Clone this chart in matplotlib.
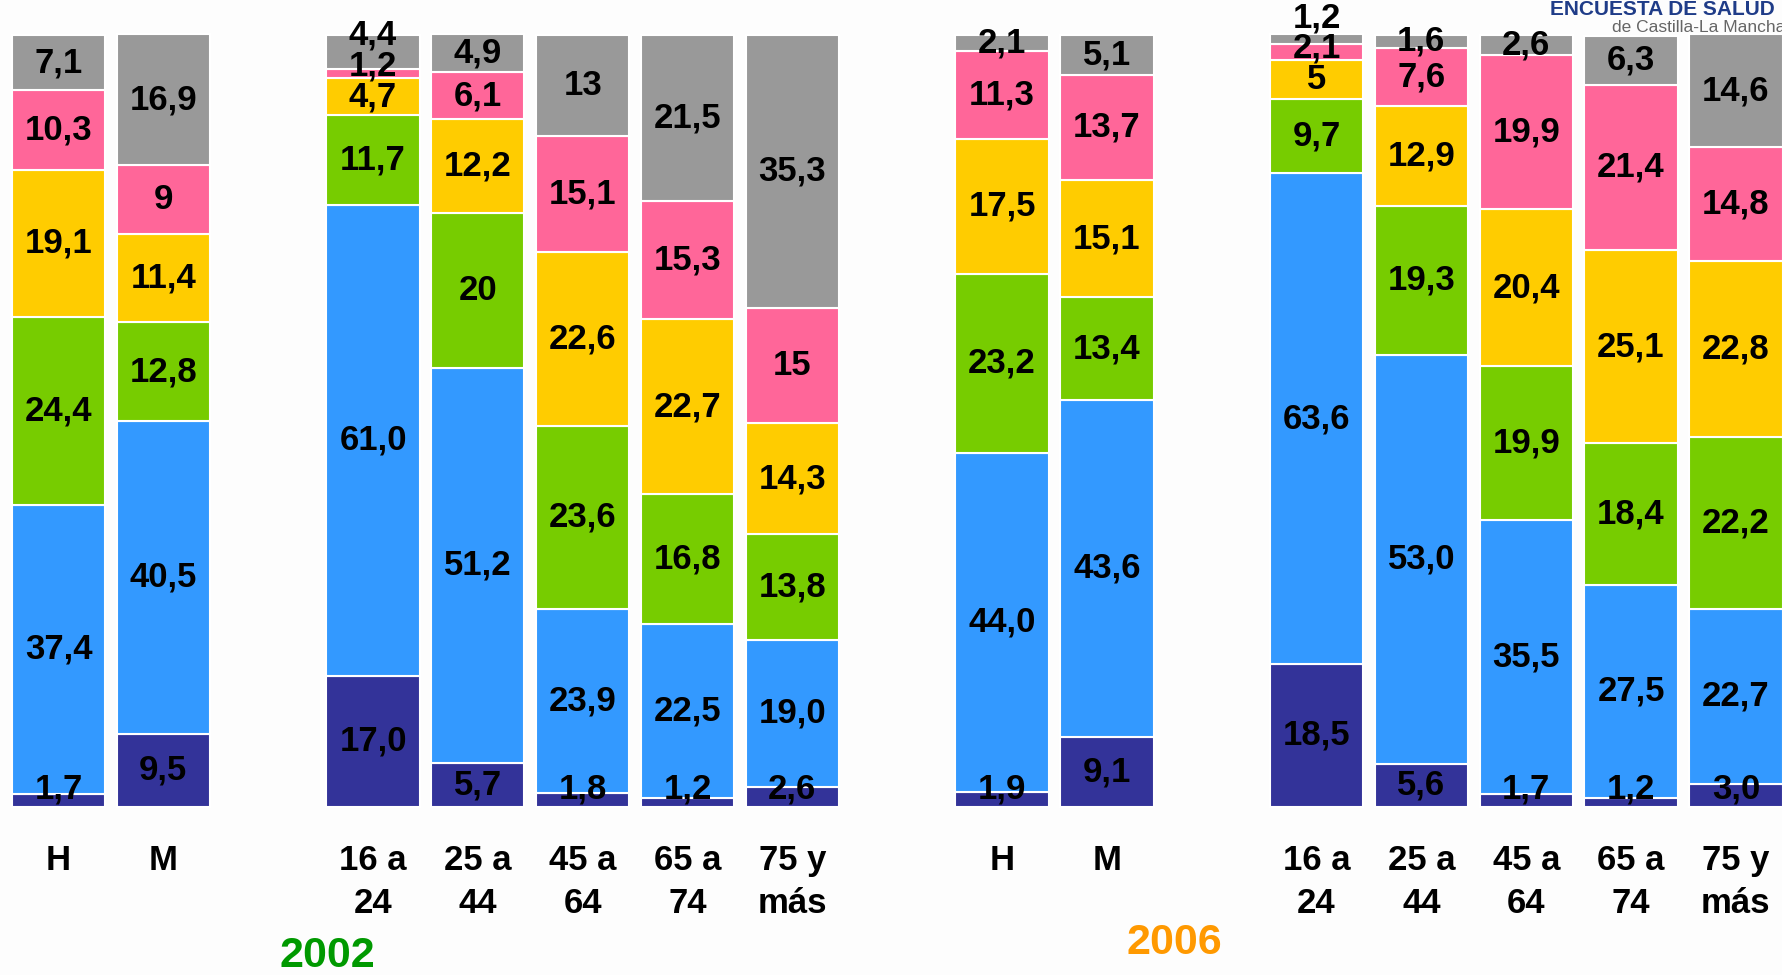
import matplotlib
matplotlib.use("Agg")
import matplotlib.pyplot as plt

plt.rcParams['font.family'] = ['Liberation Sans', 'DejaVu Sans']

# orden de barras: 2002 (H, M, edades) y 2006 (H, M, edades)
categorias = ["H", "M", "16 a\n24", "25 a\n44", "45 a\n64", "65 a\n74", "75 y\nmás",
              "H", "M", "16 a\n24", "25 a\n44", "45 a\n64", "65 a\n74", "75 y\nmás"]
anios = ["2002", "2006"]

# series de abajo hacia arriba
s_azul_osc = [1.7, 9.5, 17.0, 5.7, 1.8, 1.2, 2.6, 1.9, 9.1, 18.5, 5.6, 1.7, 1.2, 3.0]
s_azul     = [37.4, 40.5, 61.0, 51.2, 23.9, 22.5, 19.0, 44.0, 43.6, 63.6, 53.0, 35.5, 27.5, 22.7]
s_verde    = [24.4, 12.8, 11.7, 20, 23.6, 16.8, 13.8, 23.2, 13.4, 9.7, 19.3, 19.9, 18.4, 22.2]
s_amarillo = [19.1, 11.4, 4.7, 12.2, 22.6, 22.7, 14.3, 17.5, 15.1, 5, 12.9, 20.4, 25.1, 22.8]
s_rosa     = [10.3, 9, 1.2, 6.1, 15.1, 15.3, 15, 11.3, 13.7, 2.1, 7.6, 19.9, 21.4, 14.8]
s_gris     = [7.1, 16.9, 4.4, 4.9, 13, 21.5, 35.3, 2.1, 5.1, 1.2, 1.6, 2.6, 6.3, 14.6]

series = [s_azul_osc, s_azul, s_verde, s_amarillo, s_rosa, s_gris]
colores = ["#333399", "#3399FF", "#77CC00", "#FFCC00", "#FF6699", "#999999"]

# posiciones: huecos entre grupos
xpos = [0, 1, 3, 4, 5, 6, 7, 9, 10, 12, 13, 14, 15, 16]

W, H = 1782, 975
fig = plt.figure(figsize=(W / 100, H / 100), dpi=100)
fig.patch.set_facecolor("#FDFDFD")
ax = fig.add_axes([0, 0, 1, 1])
ax.set_xlim(-0.558, 16.44)
ax.set_ylim(-21.8, 104.57)
ax.axis("off")

def fmt(v):
    return str(v).replace(".", ",")

bottoms = [0.0] * len(xpos)
label_y = [[] for _ in xpos]
for vals, col in zip(series, colores):
    ax.bar(xpos, vals, bottom=bottoms, width=0.89, color=col,
           edgecolor="white", linewidth=1.5)
    for i, v in enumerate(vals):
        y = bottoms[i] + v / 2
        y = max(y, 2.3)
        # separar etiquetas que se pisan
        if label_y[i] and y - label_y[i][-1] < 4.0:
            y = label_y[i][-1] + 4.0
        label_y[i].append(y)
        ax.text(xpos[i], y, fmt(v), ha="center", va="center",
                fontsize=25, fontweight="bold", color="black")
    bottoms = [b + v for b, v in zip(bottoms, vals)]

for x, cat in zip(xpos, categorias):
    lineas = cat.split("\n")
    for k, t in enumerate(lineas):
        ax.text(x, -6.9 - 5.6 * k, t, ha="center", va="center",
                fontsize=25, fontweight="bold", color="black")

ax.text(2.56, -19.3, anios[0], ha="center", va="center", fontsize=31,
        fontweight="bold", color="#009900")
ax.text(10.64, -17.6, anios[1], ha="center", va="center", fontsize=31,
        fontweight="bold", color="#FF9900")

fig.text(1550 / W, 1 - 15 / H, "ENCUESTA DE SALUD", ha="left", va="baseline",
         fontsize=15, fontweight="bold", color="#1F3C88")
fig.text(1612 / W, 1 - 27 / H, "de Castilla-La Mancha", ha="left", va="center",
         fontsize=12.5, color="#666666")

fig.savefig("out.png", dpi=100, facecolor=fig.get_facecolor())
